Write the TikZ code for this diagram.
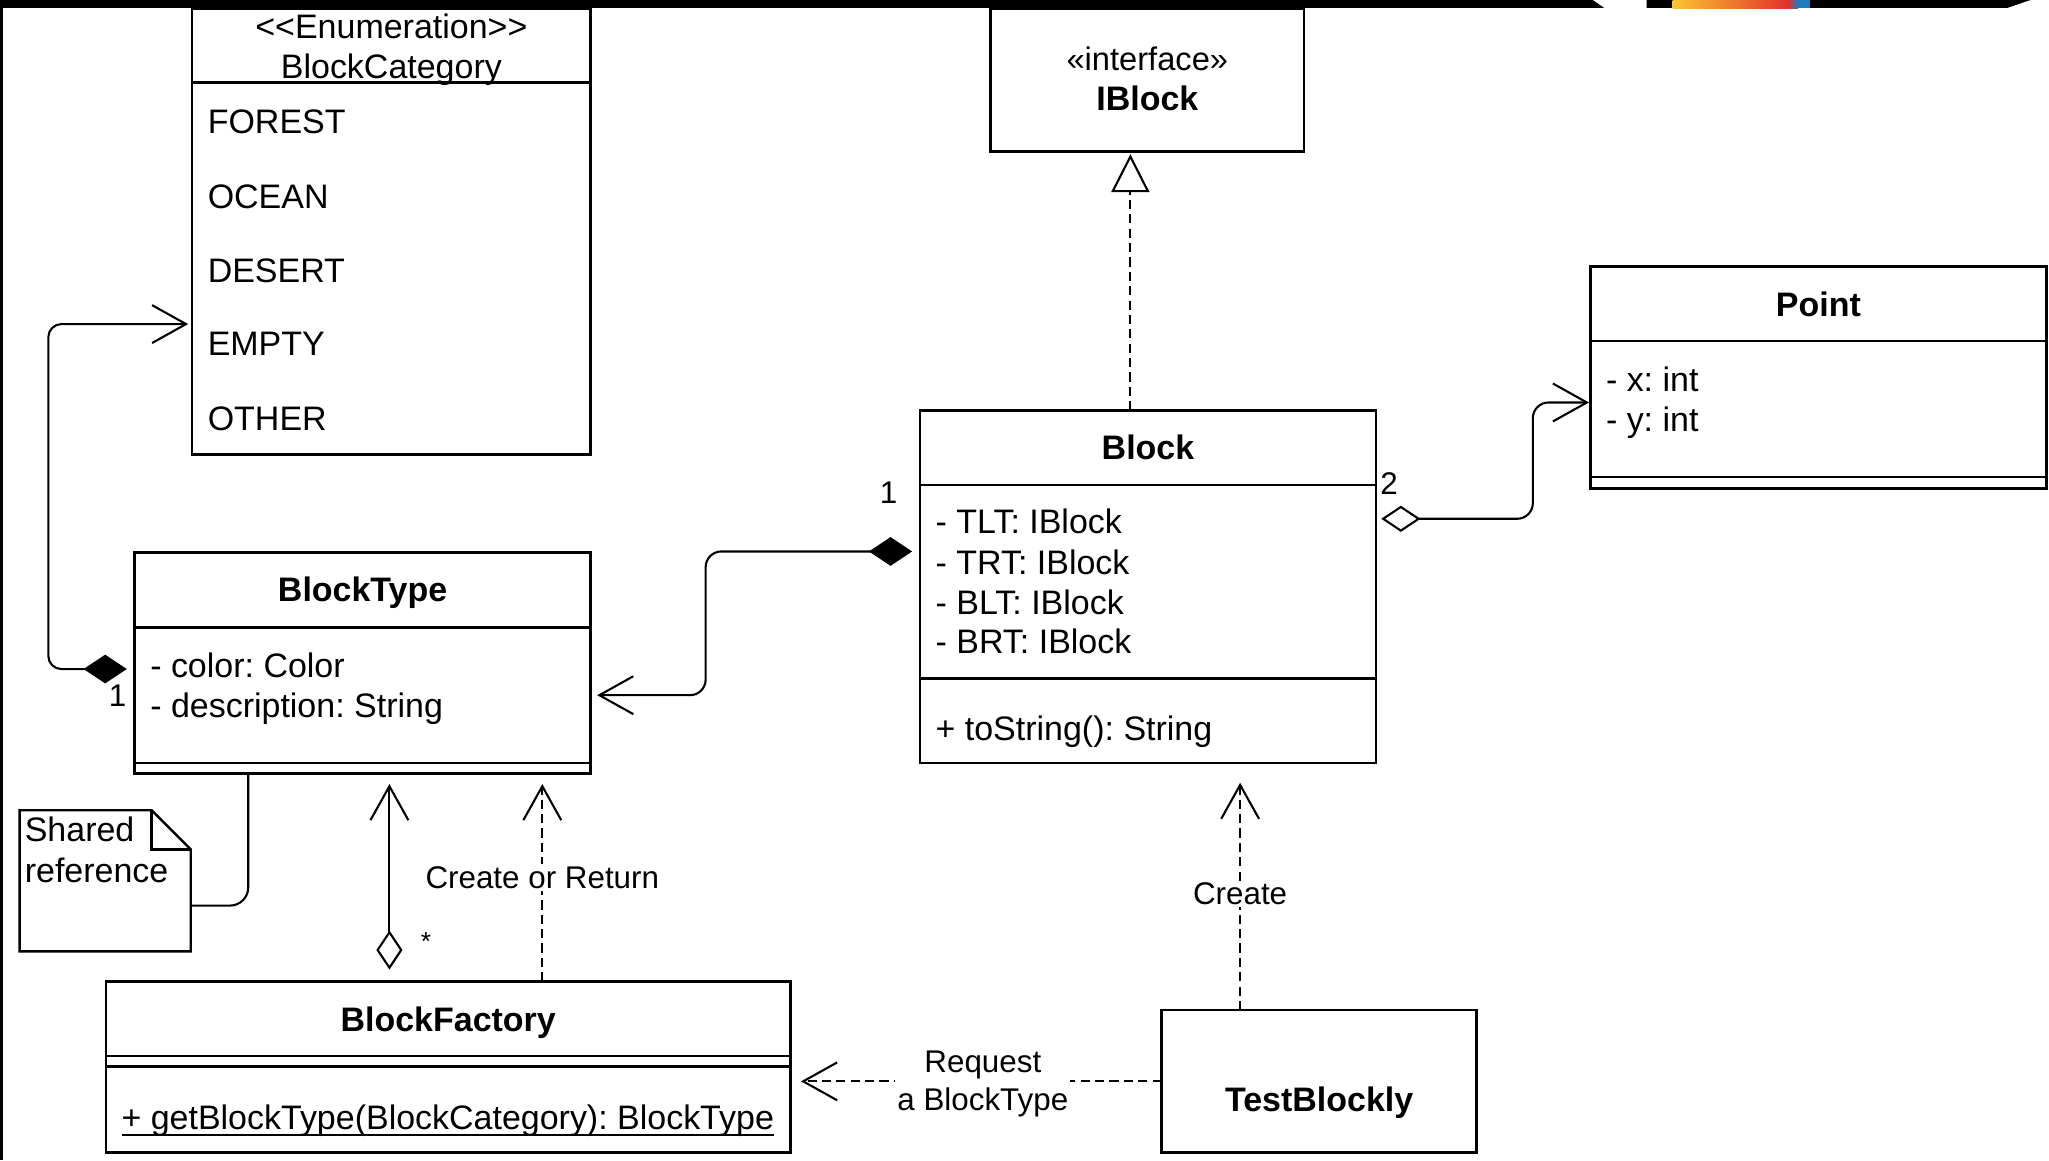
\documentclass[tikz,border=0pt]{standalone}
\usepackage{fontspec}
\setmainfont{Liberation Sans}
\usetikzlibrary{arrows.meta}
\definecolor{gy}{HTML}{FBC531}
\definecolor{go}{HTML}{F08A2D}
\definecolor{gr}{HTML}{E2322B}
\definecolor{gb}{HTML}{1E7BBF}
\tikzset{
  vtip/.tip={Straight Barb[length=26pt,width=29pt]},
  odia/.tip={Diamond[open,length=30pt,width=20pt]},
  fdia/.tip={Diamond[length=33pt,width=22pt]},
  tri/.tip={Triangle[open,length=29pt,width=29pt]},
}
\frenchspacing
\begin{document}
\frenchspacing
\begin{tikzpicture}[x=1pt,y=-1pt,
  box/.style={draw, line width=2pt, rectangle, anchor=north west, inner sep=0pt, outer sep=0pt},
  sepline/.style={line width=2pt},
  txt/.style={font=\fontsize{26}{31}\selectfont, inner sep=0pt, outer sep=0pt, anchor=base, yshift=-9.3pt},
  txtl/.style={txt, anchor=base west},
  txtb/.style={txt, font=\fontsize{26}{31}\selectfont\bfseries},
  lbl/.style={font=\fontsize{24}{29}\selectfont, inner sep=1.5pt, fill=white, align=center},
  mult/.style={font=\fontsize{24}{29}\selectfont, inner sep=0pt, anchor=base, yshift=-8.6pt},
  conn/.style={line width=1.6pt},
  dep/.style={conn, dash pattern=on 7pt off 4pt},
]
\useasboundingbox (0,0) rectangle (1568,888);
\fill[white] (0,0) rectangle (1568,888);

% ---------- boxes ----------
\node[box, minimum width=305pt, minimum height=341pt] (enum) at (147,7) {};
\node[box, minimum width=240pt, minimum height=109pt] (iblock) at (758,7) {};
\node[box, minimum width=349pt, minimum height=170pt] (point) at (1217,204) {};
\node[box, minimum width=349pt, minimum height=270pt] (block) at (704,314) {};
\node[box, minimum width=349pt, minimum height=169pt] (btype) at (103,423) {};
\node[box, minimum width=524pt, minimum height=131pt] (factory) at (81,751) {};
\node[box, minimum width=241pt, minimum height=109pt] (test) at (889,773) {};
\node[minimum width=131pt, minimum height=108pt, anchor=north west, inner sep=0pt, outer sep=0pt] (note) at (15,620) {};

% compartment lines
\draw[sepline] ([yshift=-56pt]enum.north west) -- ([yshift=-56pt]enum.north east);
\draw[sepline] ([yshift=-57pt]point.north west) -- ([yshift=-57pt]point.north east);
\draw[sepline] ([yshift=9pt]point.south west) -- ([yshift=9pt]point.south east);
\draw[sepline] ([yshift=-57pt]block.north west) -- ([yshift=-57pt]block.north east);
\draw[sepline] ([yshift=-205pt]block.north west) -- ([yshift=-205pt]block.north east);
\draw[sepline] ([yshift=-57pt]btype.north west) -- ([yshift=-57pt]btype.north east);
\draw[sepline] ([yshift=8pt]btype.south west) -- ([yshift=8pt]btype.south east);
\draw[sepline] ([yshift=-57pt]factory.north west) -- ([yshift=-57pt]factory.north east);
\draw[sepline] ([yshift=-65pt]factory.north west) -- ([yshift=-65pt]factory.north east);

% note outline
\draw[line width=1.8pt, fill=white] (note.north west) -- ([xshift=-30pt]note.north east) -- ([yshift=-30pt]note.north east) -- (note.south east) -- (note.south west) -- cycle;
\draw[line width=1.8pt] ([xshift=-30pt]note.north east) -- ([xshift=-30pt,yshift=-30pt]note.north east) -- ([yshift=-30pt]note.north east);

% ---------- texts ----------
\node[txt] (enumst) at (299.5,20) {<{}<Enumeration>{}>};
\node[txt] (enumname) at (299.5,51) {BlockCategory};
\node[txtl] (e1) at (159,93) {FOREST};
\node[txtl] (e2) at (159,150) {OCEAN};
\node[txtl] (e3) at (159,207) {DESERT};
\node[txtl] (e4) at (159,263) {EMPTY};
\node[txtl] (e5) at (159,320) {OTHER};

\node[txt, font=\fontsize{25}{30}\selectfont] (ist) at (878,45) {«interface»};
\node[txtb] (iname) at (878,75) {IBlock};

\node[txtb] (pname) at (1391.5,233) {Point};
\node[txtl] (p1) at (1229,290) {- x: int};
\node[txtl] (p2) at (1229,321) {- y: int};

\node[txtb] (bname) at (878.5,342) {Block};
\node[txtl] (b1) at (716,399) {- TLT: IBlock};
\node[txtl] (b2) at (716,430) {- TRT: IBlock};
\node[txtl] (b3) at (716,461) {- BLT: IBlock};
\node[txtl] (b4) at (716,491) {- BRT: IBlock};
\node[txtl] (b5) at (716,557) {+ toString(): String};

\node[txtb] (tname) at (277.5,451) {BlockType};
\node[txtl] (t1) at (115,509) {- color: Color};
\node[txtl] (t2) at (115,540) {- description: String};

\node[txtb] (fname) at (343,780) {BlockFactory};
\node[txtl] (fm) at (93,855) {+ getBlockType(BlockCategory): BlockType};
\draw[line width=1.3pt] ([yshift=-4pt]fm.base west) -- ([yshift=-4pt]fm.base east);

\node[txtb] (testname) at (1009.5,841) {TestBlockly};

\node[txtl] (n1) at (19,635) {Shared};
\node[txtl] (n2) at (19,666) {reference};

\node[mult] (m1) at (680,377) {1};
\node[mult] (m2) at (1063,370) {2};
\node[mult] (m3) at (90,532) {1};
\node[font=\fontsize{20}{24}\selectfont, inner sep=0pt, anchor=base] (m4) at (326,727) {*};

% ---------- connectors ----------
% realization Block -> IBlock
\coordinate (rS) at ([xshift=-13.5pt]block.north);
\draw[dep, -{tri}, shorten >=2pt] (rS) -- (rS |- iblock.south);

% Block -> Point (aggregation)
\coordinate (bE) at ([yshift=52pt]block.east);
\coordinate (pE) at ([yshift=-19pt]point.west);
\coordinate (pmid) at (1173,0);
\draw[conn, rounded corners=12pt, {odia}-{vtip}, shorten <=4pt, shorten >=1pt] (bE) -- (bE -| pmid) -- (pmid |- pE) -- (pE);

% Block -> BlockType (composition)
\coordinate (bW) at ([yshift=27pt]block.west);
\coordinate (tE) at ([yshift=-24.5pt]btype.east);
\coordinate (cmid) at (540,0);
\draw[conn, rounded corners=12pt, {fdia}-{vtip}, shorten <=6pt, shorten >=5pt] (bW) -- (bW -| cmid) -- (cmid |- tE) -- (tE);

% BlockType -> BlockCategory (composition)
\coordinate (tW) at ([yshift=-4.5pt]btype.west);
\coordinate (eW) at ([yshift=-70.5pt]enum.west);
\coordinate (emid) at (37,0);
\draw[conn, rounded corners=10pt, {fdia}-{vtip}, shorten <=6pt, shorten >=3pt] (tW) -- (tW -| emid) -- (emid |- eW) -- (eW);

% BlockFactory -> BlockType (aggregation)
\coordinate (fA) at ([xshift=-45pt]factory.north);
\draw[conn, {odia}-{vtip}, shorten <=9pt, shorten >=8pt] (fA) -- (fA |- btype.south);

% Create or Return
\coordinate (fB) at ([xshift=72pt]factory.north);
\draw[dep, -{vtip}, shorten >=8pt] (fB) -- (fB |- btype.south) node[lbl, midway] (lcr) {Create or Return};

% Create
\coordinate (tN) at ([xshift=-60.5pt]test.north);
\draw[dep, -{vtip}, shorten >=15pt] (tN) -- (tN |- block.south) node[lbl, pos=0.47] (lc) {Create};

% Request a BlockType
\draw[dep, -{vtip}, shorten >=8pt] (test.west) -- (test.west -| factory.east) node[lbl, pos=0.482, yshift=-2pt] (lr) {Request\\a BlockType};

% note link
\coordinate (nS) at ([xshift=-87.5pt]btype.south);
\coordinate (nE) at ([yshift=-19pt]note.east);
\draw[conn, rounded corners=14pt] (nS) -- (nS |- nE) -- (nE);

% ---------- frame at top / left ----------
\fill[black] (0,0) rectangle (1568,6.2);
\fill[black] (0,0) rectangle (2.2,888);
\fill[white] (1219,0) -- (1260,0) -- (1260,6.2) -- (1228,6.2) -- cycle;
\shade[left color=gy, middle color=go, right color=gr] (1280,0) rectangle (1368,6.2);
\shade[left color=gr, right color=gb] (1368,0) rectangle (1376,6.2);
\fill[gb] (1376,0) rectangle (1385,6.2);
\fill[white] (1536,6.2) -- (1554,0) -- (1568,0) -- (1568,6.2) -- cycle;
\end{tikzpicture}
\end{document}
